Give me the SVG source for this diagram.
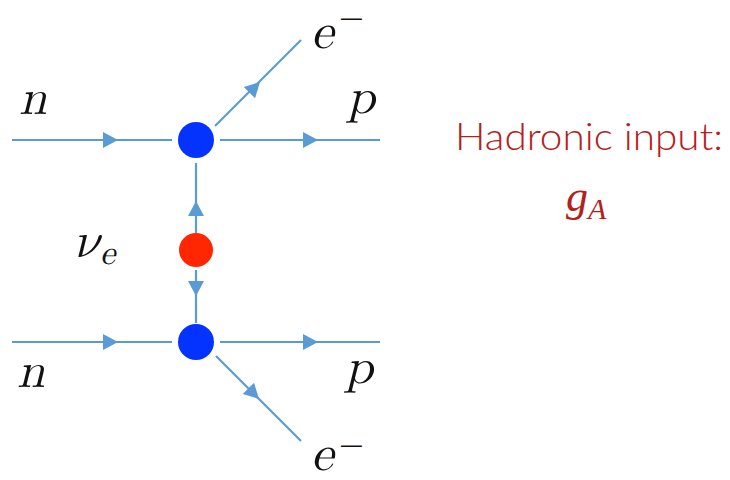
<svg xmlns="http://www.w3.org/2000/svg" width="730" height="480" viewBox="0 0 730 480">
<defs>
<style>
.ln{stroke:#5b9bd5;stroke-width:2.2;fill:none}
.ah{fill:#5b9bd5}
.m{font-family:"Latin Modern Math","Liberation Serif",serif;font-style:italic;fill:#111}
.mi{font-family:"Liberation Serif",serif;fill:#111;font-size:30px}
.h{font-family:Lato,"Liberation Sans",sans-serif;fill:#b5201a;font-weight:300}
</style>
<path id="arr" d="M0,0 L-15,-8 L-15,8 Z"/>
</defs>
<rect width="730" height="480" fill="#fff"/>
<g id="connectors">
<line class="ln" x1="12" y1="140" x2="172" y2="140"/>
<line class="ln" x1="220" y1="140" x2="380" y2="140"/>
<line class="ln" x1="215" y1="126" x2="301" y2="40"/>
<line class="ln" x1="196" y1="163" x2="196" y2="233"/>
<line class="ln" x1="196" y1="270" x2="196" y2="323"/>
<line class="ln" x1="12" y1="342" x2="172" y2="342"/>
<line class="ln" x1="220" y1="342" x2="380" y2="342"/>
<line class="ln" x1="216" y1="356" x2="301" y2="441"/>
<use href="#arr" class="ah" transform="translate(118,140)"/>
<use href="#arr" class="ah" transform="translate(318,140)"/>
<use href="#arr" class="ah" transform="translate(260,82) rotate(-45)"/>
<use href="#arr" class="ah" transform="translate(196,201) rotate(-90)"/>
<use href="#arr" class="ah" transform="translate(196,296) rotate(90)"/>
<use href="#arr" class="ah" transform="translate(118,342)"/>
<use href="#arr" class="ah" transform="translate(318,342)"/>
<use href="#arr" class="ah" transform="translate(259,399) rotate(45)"/>
</g>
<g id="vertex-top"><circle cx="196" cy="140" r="18" fill="#0433ff"/></g>
<g id="neutrino"><circle cx="196" cy="250" r="17" fill="#ff2600"/></g>
<g id="vertex-bottom"><circle cx="196" cy="342" r="18" fill="#0433ff"/></g>
<g id="labels">
<text class="m" x="19" y="114" font-size="50">n</text>
<text class="m" x="347" y="113" font-size="50">p</text>
<text class="m" x="311" y="48" font-size="50">e</text>
<text class="mi" transform="translate(339,29) scale(1.5,1)">−</text>
<text class="m" x="75" y="257" font-size="50">ν<tspan font-size="34" dy="7">e</tspan></text>
<text class="m" x="17" y="387" font-size="50">n</text>
<text class="m" x="345" y="383" font-size="50">p</text>
<text class="m" x="311" y="470" font-size="50">e</text>
<text class="mi" transform="translate(339,456) scale(1.5,1)">−</text>
</g>
<g id="hadronic">
<text class="h" x="455" y="150" font-size="37" textLength="268" lengthAdjust="spacingAndGlyphs">Hadronic input:</text>
<text x="566" y="211" font-family="'Liberation Serif',serif" font-style="italic" font-size="44" fill="#b5201a">g<tspan font-size="30" dy="8">A</tspan></text>
</g>
</svg>
